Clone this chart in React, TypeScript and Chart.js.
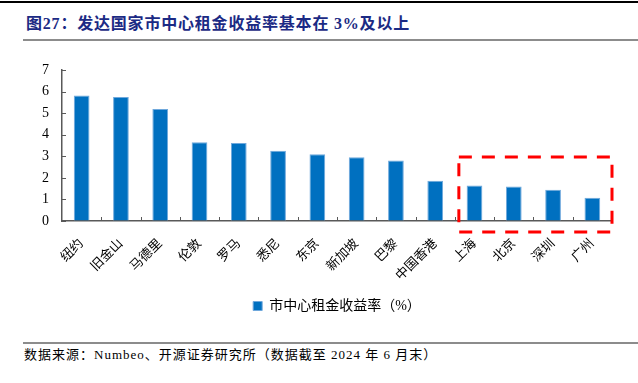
import React, { useEffect, useRef } from 'react';
import { Chart, registerables } from 'chart.js';

Chart.register(...registerables);

const categories = ['纽约', '旧金山', '马德里', '伦敦', '罗马', '悉尼', '东京', '新加坡', '巴黎', '中国香港', '上海', '北京', '深圳', '广州'];
const yieldValues = [5.82, 5.75, 5.19, 3.65, 3.62, 3.26, 3.09, 2.95, 2.81, 1.87, 1.65, 1.6, 1.45, 1.08];
const yTicks = [0, 1, 2, 3, 4, 5, 6, 7];
const seriesLabel = '市中心租金收益率（%）';
const highlightStart = '上海';
const highlightTopValue = 2.97;

const titleText = '图27：发达国家市中心租金收益率基本在 3%及以上';
const sourceText = '数据来源：Numbeo、开源证券研究所（数据截至 2024 年 6 月末）';

const FONT = "'Liberation Serif', 'Noto Sans CJK SC', serif";

const decorPlugin = {
  id: 'decor',
  afterDatasetsDraw(chart: any) {
    const { ctx, chartArea, scales } = chart;
    const x = scales.x;
    const y = scales.y;
    ctx.save();
    ctx.strokeStyle = '#595959';
    ctx.lineWidth = 1;
    // y ticks pointing inward
    y.ticks.forEach((_t: any, i: number) => {
      const py = Math.round(y.getPixelForTick(i)) + 0.5;
      ctx.beginPath();
      ctx.moveTo(chartArea.left, py);
      ctx.lineTo(chartArea.left + 4, py);
      ctx.stroke();
    });
    // x ticks between categories pointing upward
    for (let i = 1; i < categories.length; i++) {
      const px = Math.round((x.getPixelForValue(i - 1) + x.getPixelForValue(i)) / 2) + 0.5;
      ctx.beginPath();
      ctx.moveTo(px, chartArea.bottom);
      ctx.lineTo(px, chartArea.bottom - 4);
      ctx.stroke();
    }
    // red dashed highlight box
    const idx = categories.indexOf(highlightStart);
    const left = (x.getPixelForValue(idx - 1) + x.getPixelForValue(idx)) / 2 + 4;
    const right = chartArea.right;
    const top = y.getPixelForValue(highlightTopValue);
    const bottom = chartArea.bottom + 11;
    ctx.strokeStyle = '#FF0000';
    ctx.lineWidth = 3;
    ctx.setLineDash([13, 10]);
    ctx.strokeRect(left, top, right - left, bottom - top);
    ctx.restore();
  },
};

export default function App() {
  const ref = useRef<HTMLCanvasElement>(null);
  useEffect(() => {
    document.body.style.margin = '0';
    const chart = new Chart(ref.current as HTMLCanvasElement, {
      type: 'bar',
      data: {
        labels: categories,
        datasets: [
          {
            label: seriesLabel,
            data: yieldValues,
            backgroundColor: '#0070C0',
            borderColor: '#6FA8DC',
            borderWidth: 1,
            barPercentage: 0.4,
            categoryPercentage: 1,
          },
        ],
      },
      options: {
        responsive: false,
        animation: false,
        layout: { padding: { top: 22, right: 26, left: 0, bottom: 4 } },
        plugins: {
          tooltip: { enabled: false },
          legend: {
            position: 'bottom',
            fullSize: false,
            labels: {
              boxWidth: 9,
              boxHeight: 9,
              color: '#000',
              padding: 10,
              font: { family: FONT, size: 14 },
            },
          },
        },
        scales: {
          x: {
            grid: { display: true, drawOnChartArea: false, drawTicks: false },
            border: { display: true, color: '#595959', width: 1.5 },
            ticks: {
              color: '#000',
              font: { family: FONT, size: 13 },
              maxRotation: 45,
              minRotation: 45,
              padding: 15,
              autoSkip: false,
            },
            afterFit: (s: any) => {
              s.height = 68;
            },
          },
          y: {
            min: 0,
            max: 7,
            afterBuildTicks: (s: any) => {
              s.ticks = yTicks.map((v) => ({ value: v }));
            },
            grid: { display: true, drawOnChartArea: false, drawTicks: false },
            border: { display: true, color: '#595959', width: 1.5 },
            ticks: {
              color: '#000',
              font: { family: FONT, size: 14 },
              padding: 13,
            },
            afterFit: (s: any) => {
              s.width = 62;
            },
          },
        },
      },
      plugins: [decorPlugin],
    } as any);
    return () => chart.destroy();
  }, []);

  return (
    <div style={{ position: 'fixed', left: 0, top: 0, width: 638, height: 383, background: '#fff', overflow: 'hidden' }}>
      <div style={{ position: 'absolute', left: 0, top: 1, width: 638, height: 2, background: '#000' }} />
      <div
        style={{
          position: 'absolute',
          left: 26,
          top: 14,
          fontFamily: FONT,
          fontWeight: 'bold',
          fontSize: 16,
          letterSpacing: '0.8px',
          lineHeight: '20px',
          color: '#1B2A84',
          whiteSpace: 'nowrap',
        }}
      >
        {titleText}
      </div>
      <div style={{ position: 'absolute', left: 23, top: 39, width: 615, height: 2, background: '#8C8C8C' }} />
      <canvas ref={ref} width={638} height={279} style={{ position: 'absolute', left: 0, top: 48, width: 638, height: 279 }} />
      <div style={{ position: 'absolute', left: 23, top: 342, width: 615, height: 2, background: '#8C8C8C' }} />
      <div
        style={{
          position: 'absolute',
          left: 24,
          top: 346,
          fontFamily: FONT,
          fontSize: 13,
          letterSpacing: '1px',
          lineHeight: '18px',
          color: '#000',
          whiteSpace: 'nowrap',
        }}
      >
        {sourceText}
      </div>
    </div>
  );
}
